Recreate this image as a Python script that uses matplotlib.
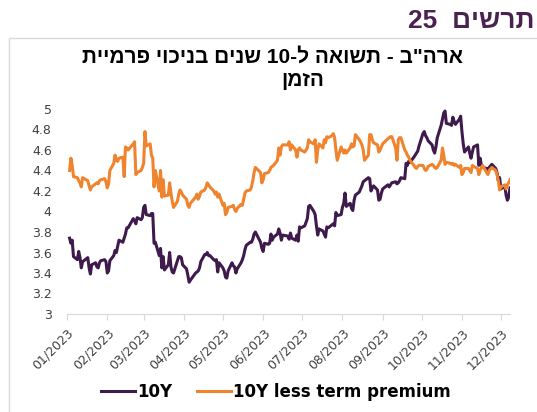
import matplotlib
matplotlib.use("Agg")
import matplotlib.pyplot as plt
import matplotlib.dates as mdates
from matplotlib.lines import Line2D
from matplotlib.patches import Rectangle
import pandas as pd

# data (daily, 2023)
dates = [
    "01-03", "01-04", "01-05", "01-06", "01-09", "01-10", "01-11", "01-12", "01-13", "01-17",
    "01-18", "01-19", "01-20", "01-23", "01-24", "01-25", "01-26", "01-27", "01-30", "01-31",
    "02-01", "02-02", "02-03", "02-06", "02-07", "02-08", "02-09", "02-10", "02-13", "02-14",
    "02-15", "02-16", "02-17", "02-21", "02-22", "02-23", "02-24", "02-27", "02-28",
    "03-01", "03-02", "03-03", "03-06", "03-07", "03-08", "03-09", "03-10", "03-13", "03-14",
    "03-15", "03-16", "03-17", "03-20", "03-21", "03-22", "03-23", "03-24", "03-27", "03-28",
    "03-29", "03-30", "03-31",
    "04-03", "04-04", "04-05", "04-06", "04-10", "04-11", "04-12", "04-13", "04-14", "04-17",
    "04-18", "04-19", "04-20", "04-21", "04-24", "04-25", "04-26", "04-27", "04-28",
    "05-01", "05-02", "05-03", "05-04", "05-05", "05-08", "05-09", "05-10", "05-11", "05-12",
    "05-15", "05-16", "05-17", "05-18", "05-19", "05-22", "05-23", "05-24", "05-25", "05-26",
    "05-30", "05-31",
    "06-01", "06-02", "06-05", "06-06", "06-07", "06-08", "06-09", "06-12", "06-13", "06-14",
    "06-15", "06-16", "06-20", "06-21", "06-22", "06-23", "06-26", "06-27", "06-28", "06-29",
    "06-30",
    "07-03", "07-05", "07-06", "07-07", "07-10", "07-11", "07-12", "07-13", "07-14", "07-17",
    "07-18", "07-19", "07-20", "07-21", "07-24", "07-25", "07-26", "07-27", "07-28", "07-31",
    "08-01", "08-02", "08-03", "08-04", "08-07", "08-08", "08-09", "08-10", "08-11", "08-14",
    "08-15", "08-16", "08-17", "08-18", "08-21", "08-22", "08-23", "08-24", "08-25", "08-28",
    "08-29", "08-30", "08-31",
    "09-01", "09-05", "09-06", "09-07", "09-08", "09-11", "09-12", "09-13", "09-14", "09-15",
    "09-18", "09-19", "09-20", "09-21", "09-22", "09-25", "09-26", "09-27", "09-28", "09-29",
    "10-02", "10-03", "10-04", "10-05", "10-06", "10-09", "10-10", "10-11", "10-12", "10-13",
    "10-16", "10-17", "10-18", "10-19", "10-20", "10-23", "10-24", "10-25", "10-26", "10-27",
    "10-30", "10-31",
    "11-01", "11-02", "11-03", "11-06", "11-07", "11-08", "11-09", "11-10", "11-13", "11-14",
    "11-15", "11-16", "11-17", "11-20", "11-21", "11-22", "11-24", "11-27", "11-28", "11-29",
    "11-30",
    "12-01", "12-04", "12-05", "12-06", "12-07", "12-08",
]

y10 = [
    3.74, 3.69, 3.72, 3.56, 3.53, 3.61, 3.55, 3.45, 3.51, 3.55,
    3.45, 3.39, 3.48, 3.50, 3.46, 3.45, 3.50, 3.52, 3.53, 3.51,
    3.40, 3.42, 3.52, 3.57, 3.62, 3.60, 3.66, 3.72, 3.70, 3.74,
    3.78, 3.84, 3.84, 3.93, 3.91, 3.88, 3.94, 3.92, 3.94,
    4.04, 4.06, 3.97, 3.96, 3.98, 3.98, 3.69, 3.70, 3.57, 3.64,
    3.45, 3.56, 3.43, 3.48, 3.60, 3.46, 3.41, 3.40, 3.52, 3.56,
    3.56, 3.55, 3.48,
    3.44, 3.38, 3.31, 3.33, 3.40, 3.41, 3.42, 3.45, 3.51, 3.58,
    3.58, 3.60, 3.57, 3.57, 3.53, 3.52, 3.53, 3.41, 3.50,
    3.45, 3.42, 3.36, 3.35, 3.42, 3.50, 3.47, 3.46, 3.40, 3.44,
    3.50, 3.53, 3.57, 3.63, 3.67, 3.70, 3.70, 3.73, 3.78, 3.80,
    3.70, 3.64,
    3.61, 3.69, 3.68, 3.69, 3.78, 3.72, 3.75, 3.78, 3.83, 3.79,
    3.72, 3.77, 3.76, 3.73, 3.79, 3.74, 3.72, 3.77, 3.71, 3.85,
    3.84,
    3.86, 3.93, 4.05, 4.06, 4.00, 3.97, 3.86, 3.77, 3.83, 3.81,
    3.78, 3.75, 3.85, 3.84, 3.87, 3.88, 3.86, 3.99, 3.96, 3.97,
    4.04, 4.08, 4.18, 4.05, 4.08, 4.03, 4.01, 4.11, 4.16, 4.19,
    4.22, 4.25, 4.29, 4.30, 4.33, 4.32, 4.20, 4.23, 4.25, 4.21,
    4.11, 4.12, 4.18,
    4.22, 4.26, 4.24, 4.26, 4.28, 4.29, 4.27, 4.28, 4.30, 4.33,
    4.32, 4.47, 4.45, 4.49, 4.48, 4.53, 4.55, 4.57, 4.59, 4.64,
    4.76, 4.78, 4.74, 4.72, 4.69, 4.65, 4.60, 4.57, 4.63, 4.72,
    4.84, 4.90, 4.96, 4.98, 4.86, 4.85, 4.84, 4.92, 4.88, 4.85,
    4.90, 4.93,
    4.78, 4.66, 4.58, 4.63, 4.57, 4.52, 4.58, 4.63, 4.65, 4.45,
    4.52, 4.45, 4.43, 4.42, 4.40, 4.43, 4.46, 4.42, 4.38, 4.30,
    4.33,
    4.22, 4.25, 4.16, 4.11, 4.14, 4.23,
]

y10_less_tp = [
    4.40, 4.52, 4.45, 4.34, 4.33, 4.30, 4.28, 4.24, 4.33, 4.30,
    4.25, 4.21, 4.24, 4.27, 4.28, 4.27, 4.30, 4.31, 4.32, 4.29,
    4.23, 4.27, 4.40, 4.47, 4.55, 4.50, 4.49, 4.52, 4.53, 4.34,
    4.63, 4.62, 4.60, 4.66, 4.68, 4.36, 4.38, 4.40, 4.43,
    4.47, 4.78, 4.64, 4.66, 4.55, 4.52, 4.24, 4.40, 4.20, 4.40,
    4.14, 4.31, 4.15, 4.16, 4.28, 4.18, 4.10, 4.04, 4.10, 4.17,
    4.21, 4.19, 4.16,
    4.12, 4.06, 4.04, 4.08, 4.14, 4.17, 4.12, 4.15, 4.19, 4.21,
    4.24, 4.28, 4.26, 4.24, 4.20, 4.17, 4.19, 4.14, 4.17,
    4.06, 4.08, 3.97, 3.99, 4.04, 4.05, 4.06, 4.02, 4.00, 4.03,
    4.07, 4.06, 4.12, 4.18, 4.20, 4.21, 4.24, 4.30, 4.38, 4.43,
    4.38, 4.28,
    4.31, 4.37, 4.38, 4.40, 4.43, 4.44, 4.45, 4.50, 4.62, 4.55,
    4.63, 4.65, 4.65, 4.68, 4.60, 4.65, 4.60, 4.53, 4.60, 4.62,
    4.60,
    4.58, 4.62, 4.70, 4.68, 4.66, 4.70, 4.48, 4.60, 4.66, 4.62,
    4.70, 4.67, 4.73, 4.72, 4.74, 4.76, 4.72, 4.60, 4.50, 4.63,
    4.60, 4.57, 4.60, 4.57, 4.62, 4.66, 4.63, 4.64, 4.75, 4.70,
    4.68, 4.65, 4.60, 4.50, 4.55, 4.75, 4.75, 4.70, 4.67, 4.65,
    4.58, 4.60, 4.63,
    4.66, 4.71, 4.72, 4.73, 4.73, 4.62, 4.50, 4.70, 4.72, 4.72,
    4.60, 4.58, 4.55, 4.53, 4.50, 4.45, 4.43, 4.42, 4.44, 4.45,
    4.45, 4.42, 4.40, 4.41, 4.44, 4.46, 4.45, 4.43, 4.42, 4.43,
    4.50, 4.62, 4.55, 4.46, 4.48, 4.47, 4.46, 4.47, 4.45, 4.46,
    4.43, 4.45,
    4.36, 4.38, 4.42, 4.42, 4.40, 4.38, 4.45, 4.44, 4.42, 4.36,
    4.40, 4.43, 4.45, 4.38, 4.36, 4.40, 4.43, 4.40, 4.36, 4.30,
    4.21,
    4.24, 4.26, 4.22, 4.26, 4.28, 4.31,
]

x = pd.to_datetime(["2023-" + d for d in dates])

purple = "#3E1B4C"
orange = "#F0832E"
heb = ["Liberation Sans", "DejaVu Sans"]

fig = plt.figure(figsize=(5.37, 4.12), dpi=100)
W, H = 537, 412
ax = fig.add_axes([67 / W, 1 - 314 / H, (510 - 67) / W, (314 - 109) / H])

ax.plot(x, y10, color=purple, lw=2.2, solid_joinstyle="round")
ax.plot(x, y10_less_tp, color=orange, lw=2.2, solid_joinstyle="round")

ax.set_ylim(3, 5)
ax.set_yticks([3 + 0.2 * i for i in range(11)])
ax.yaxis.set_major_formatter(plt.FuncFormatter(lambda v, p: f"{v:g}"))
ax.set_xlim(pd.Timestamp("2023-01-01"), pd.Timestamp("2023-12-08"))
ax.xaxis.set_major_locator(mdates.MonthLocator())
ax.xaxis.set_major_formatter(mdates.DateFormatter("%m/%Y"))

for s in ["top", "right", "left"]:
    ax.spines[s].set_visible(False)
ax.spines["bottom"].set_color("#d9d9d9")
ax.tick_params(axis="y", length=0, pad=11, labelsize=9, labelcolor="#404040")
ax.tick_params(axis="x", length=4, color="#d9d9d9", labelsize=9, labelcolor="#404040", pad=5)
for lab in ax.get_xticklabels():
    lab.set_rotation(45)
    lab.set_ha("right")
    lab.set_va("top")
    lab.set_rotation_mode("anchor")

# frame around the chart
fig.patches.append(Rectangle((9 / W, -0.1), 1.0, 1.1 - 38 / H, transform=fig.transFigure,
                             fill=False, ec="#d9d9d9", lw=1))

# hebrew texts written in visual order
fig.text(534 / W, 1 - 21 / H, "25  " + "תרשים"[::-1], ha="right", va="center",
         fontsize=19, fontweight="bold", color="#4A2250", family=heb)
fig.text(273 / W, 1 - 57 / H, "תיימרפ יוכינב םינש 10-ל האושת - ב\"הרא",
         ha="center", va="center", fontsize=15, fontweight="bold", color="black", family=heb)
fig.text(303 / W, 1 - 80 / H, "הזמן"[::-1], ha="center", va="center",
         fontsize=15, fontweight="bold", color="black", family=heb)

handles = [Line2D([], [], color=purple, lw=2.2), Line2D([], [], color=orange, lw=2.2)]
fig.legend(handles, ["10Y", "10Y less term premium"], loc="center", ncol=2,
           bbox_to_anchor=(276 / W, 1 - 392 / H), frameon=False,
           prop={"size": 12, "weight": "bold"}, handlelength=2, handletextpad=0.15,
           columnspacing=1.5)

fig.savefig("out.png", dpi=100, facecolor="white")
